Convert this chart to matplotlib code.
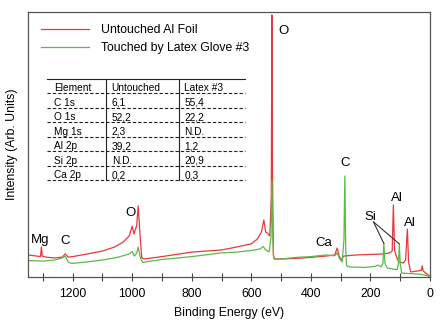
import matplotlib
matplotlib.use("Agg")
import matplotlib.pyplot as plt
from matplotlib.ticker import MultipleLocator

plt.rcParams['font.family'] = ['Liberation Sans', 'DejaVu Sans']

# ---- data (binding energy eV, intensity arb.) ----
red_energy = [1350, 1320, 1308, 1305, 1302, 1290, 1260, 1235, 1225, 1215, 1200, 1150, 1100,
              1060, 1030, 1010, 1000, 994, 985, 980, 975, 968, 960, 900, 800, 700, 650, 600,
              580, 566, 558, 552, 545, 538, 533, 531, 529, 526, 522, 500, 450, 400, 350, 320,
              312, 305, 298, 290, 250, 200, 160, 135, 127, 123, 119, 112, 105, 90, 82, 76, 72,
              65, 40, 29, 26, 23, 10, 0]
red_intensity = [8.3, 7.9, 7.7, 11.3, 7.9, 7.5, 7.2, 7.5, 8.7, 7.5, 7.7, 8.7, 9.8,
                 11.3, 13.2, 15.5, 19.2, 16.2, 19.5, 26.8, 18.0, 7.2, 6.8, 7.7, 9.4, 10.2, 11.3, 12.5,
                 14.3, 17.0, 21.5, 17.0, 16.5, 15.5, 30.0, 98.9, 40.0, 8.3, 6.8, 6.8, 7.0, 7.4, 7.9, 8.3,
                 10.9, 7.9, 6.4, 7.9, 8.3, 8.5, 8.7, 9.1, 9.8, 27.2, 10.0, 7.5, 5.7, 5.3, 6.4, 18.1, 5.7,
                 1.9, 2.3, 2.5, 4.2, 2.3, 1.1, 0.2]

green_energy = [1350, 1300, 1260, 1235, 1225, 1215, 1205, 1150, 1100, 1050, 1010, 1000, 993,
                985, 980, 972, 965, 955, 900, 800, 700, 650, 600, 570, 560, 552, 540, 534, 531,
                528, 525, 520, 500, 450, 400, 350, 320, 312, 305, 295, 289, 286, 283, 280, 270,
                220, 185, 175, 165, 158, 155, 151, 143, 125, 110, 106, 103, 100, 95, 70, 40, 20, 0]
green_intensity = [6.2, 6.0, 6.4, 7.2, 7.9, 5.7, 5.1, 5.7, 6.4, 7.4, 8.7, 9.6, 7.9,
                   9.0, 11.3, 7.0, 5.5, 5.7, 6.6, 7.7, 9.1, 9.4, 10.0, 10.6, 11.5, 10.2, 9.5, 15.0, 36.6,
                   15.0, 7.2, 6.6, 6.8, 7.4, 7.7, 8.3, 8.0, 9.1, 7.2, 5.7, 14.0, 38.1, 10.0, 4.2, 3.8,
                   3.6, 4.0, 4.5, 3.8, 5.0, 12.6, 5.0, 3.4, 3.0, 2.8, 5.0, 12.5, 5.0, 1.5, 1.3, 1.1, 0.8, 0.2]

series_labels = ["Untouched Al Foil", "Touched by Latex Glove #3"]
series_colors = ["#e8383b", "#5cb84a"]

# peak annotations: (text, energy, intensity)
peak_labels = [("O", 491, 93.0), ("C", 285.5, 43.0), ("Ca", 357, 12.7), ("Al", 110, 29.7),
               ("Al", 67, 20.5), ("O", 1007, 24.3), ("Mg", 1310, 14.0), ("C", 1226, 13.6)]
si_label = ("Si", 201, 22.8)
si_peaks = [(154.6, 12.6), (103, 12.5)]

# table
table_header = ["Element", "Untouched", "Latex #3"]
table_elements = ["C 1s", "O 1s", "Mg 1s", "Al 2p", "Si 2p", "Ca 2p"]
table_untouched = ["6,1", "52,2", "2,3", "39,2", "N.D.", "0,2"]
table_latex = ["55,4", "22,2", "N.D.", "1,2", "20,9", "0,3"]

# ---- figure ----
W, H = 444, 333
fig = plt.figure(figsize=(W / 100, H / 100), dpi=100)
ax_l, ax_t, ax_r, ax_b = 28, 12, 430, 277
ax = fig.add_axes([ax_l / W, 1 - ax_b / H, (ax_r - ax_l) / W, (ax_b - ax_t) / H])

ax.plot(red_energy, red_intensity, color=series_colors[0], lw=0.9, label=series_labels[0])
ax.plot(green_energy, green_intensity, color=series_colors[1], lw=0.9, label=series_labels[1])

ax.set_xlim(1350, 0)
ax.set_ylim(0, 100)
ax.xaxis.set_major_locator(MultipleLocator(200))
ax.xaxis.set_minor_locator(MultipleLocator(100))
ax.tick_params(axis='x', which='both', direction='inout', length=6, width=0.8, color='#444444')
ax.tick_params(axis='x', which='major', labelsize=8.8, pad=5)
ax.set_yticks([])
for s in ax.spines.values():
    s.set_color('#555555')
    s.set_linewidth(0.9)

ax.set_xlabel("Binding Energy (eV)", fontsize=8.8, labelpad=5)
ax.set_ylabel("Intensity (Arb. Units)", fontsize=8.8, labelpad=7)

leg = ax.legend(loc='upper left', bbox_to_anchor=(0.02, 0.972), frameon=False, fontsize=8.8,
                handlelength=3.9, handletextpad=1.0, labelspacing=0.5, borderaxespad=0)

for t, e, v in peak_labels:
    ax.text(e, v, t, fontsize=9.5, ha='center', va='center')
for e, v in si_peaks:
    ax.annotate("", xy=(e, v), xytext=(190, 20.8),
                arrowprops=dict(arrowstyle='-', color='#333333', lw=0.8, shrinkA=0, shrinkB=0))
ax.text(si_label[1], si_label[2], si_label[0], fontsize=9.5, ha='center', va='center')

# table drawn in pixel-derived axes fractions
def fx(px):
    return (px - ax_l) / (ax_r - ax_l)

def fy(py):
    return (ax_b - py) / (ax_b - ax_t)

tr = ax.transAxes
tab_left, tab_right = 46.7, 245.3
col_x = [54, 111.7, 184.3]
col_lines = [106, 179.3]
row_h = 14.45
top = 79
text_y0 = 88.3
dash_y0 = 93.3

ax.plot([fx(tab_left), fx(tab_right)], [fy(top), fy(top)], transform=tr, color='#222222', lw=0.8)
n_rows = len(table_elements) + 1
bottom_line = dash_y0 + row_h * (n_rows - 1)
for cx in col_lines:
    ax.plot([fx(cx), fx(cx)], [fy(top), fy(bottom_line)], transform=tr, color='#222222', lw=0.8)
rows = [table_header] + [list(r) for r in zip(table_elements, table_untouched, table_latex)]
for i, row in enumerate(rows):
    ty = text_y0 + row_h * i
    for j, cell in enumerate(row):
        ax.text(fx(col_x[j]), fy(ty), cell, transform=tr, fontsize=7.3, ha='left', va='center')
    dy = dash_y0 + row_h * i
    ax.plot([fx(tab_left), fx(tab_right)], [fy(dy), fy(dy)], transform=tr, color='#222222',
            lw=0.8, linestyle=(0, (3, 1.8)))

fig.savefig("out.png", dpi=100)
